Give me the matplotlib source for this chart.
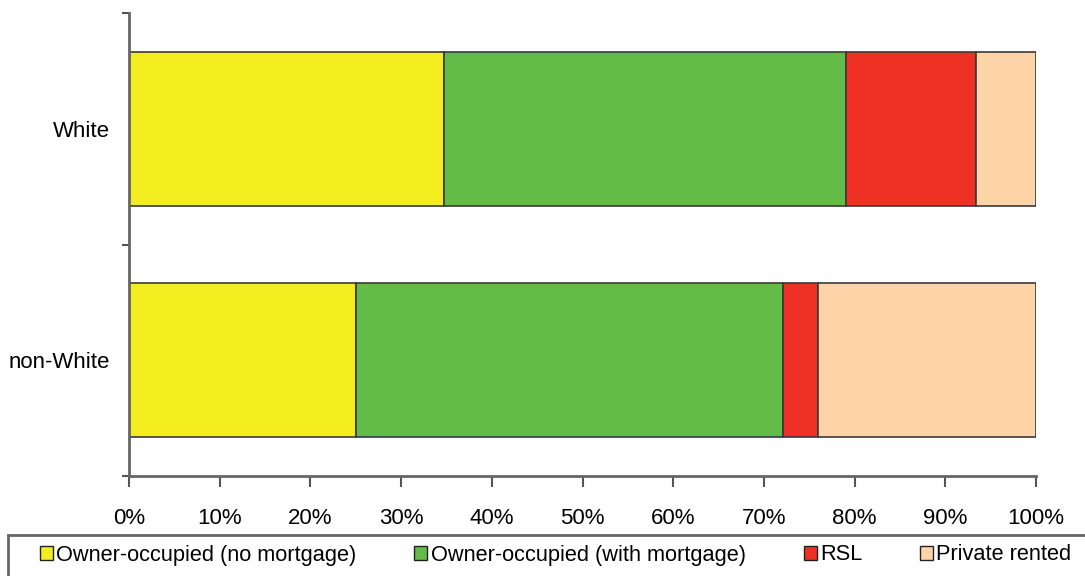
import matplotlib
matplotlib.use("Agg")
import matplotlib.pyplot as plt
from matplotlib.patches import Rectangle
import numpy as np

plt.rcParams['font.family'] = ['Liberation Sans', 'DejaVu Sans']

# data (percent of households)
groups = ['non-White', 'White']
series = ['Owner-occupied (no mortgage)', 'Owner-occupied (with mortgage)', 'RSL', 'Private rented']
no_mortgage = [25.0, 34.7]
with_mortgage = [47.1, 44.3]
rsl = [3.9, 14.4]
private_rented = [24.0, 6.6]
xticklabels = ['0%', '10%', '20%', '30%', '40%', '50%', '60%', '70%', '80%', '90%', '100%']

colors = ['#F3EC1E', '#63BC47', '#EE3124', '#FCD4A8']

fig = plt.figure(figsize=(10.85, 5.76), dpi=100)
ax = fig.add_axes([129 / 1085, 1 - 476 / 576, (1036 - 129) / 1085, (476 - 13) / 576])

y = np.arange(len(groups))
left = np.zeros(len(groups))
for vals, lab, c in zip([no_mortgage, with_mortgage, rsl, private_rented], series, colors):
    ax.barh(y, vals, left=left, height=0.665, color=c, edgecolor='#3a3a3a',
            linewidth=1.2, label=lab)
    left += np.array(vals)

ax.set_xlim(0, 100)
ax.set_ylim(-0.5, 1.5)

ax.set_xticks(np.arange(0, 101, 10))
ax.set_xticklabels(xticklabels, fontsize=16)
ax.tick_params(axis='x', length=8, width=1.5, color='#555555', pad=15)

ax.set_yticks(y)
ax.set_yticklabels(groups, fontsize=16)
ax.tick_params(axis='y', which='major', length=0, pad=14)
ax.set_yticks([-0.5, 0.5, 1.5], minor=True)
ax.tick_params(axis='y', which='minor', length=5, width=1.5, color='#555555')

for s in ['top', 'right']:
    ax.spines[s].set_visible(False)
for s in ['left', 'bottom']:
    ax.spines[s].set_color('#666666')
    ax.spines[s].set_linewidth(2)

# legend box runs across the whole bottom of the figure
fig.patches.append(Rectangle((8 / 1085, -0.02), 1.0, 0.02 + 1 - 535 / 576,
                             transform=fig.transFigure, facecolor='none',
                             edgecolor='#666666', linewidth=2))
handles, labels = ax.get_legend_handles_labels()
leg = fig.legend(handles, labels, loc='center left', ncol=4,
                 bbox_to_anchor=(40 / 1085, 1 - 555 / 576),
                 fontsize=15.7, frameon=False, handlelength=0.6,
                 handleheight=0.6, handletextpad=0.15, columnspacing=2.65,
                 borderpad=0, borderaxespad=0)
for h in leg.legend_handles:
    h.set_edgecolor('#222222')
    h.set_linewidth(1.0)

fig.savefig('out.png', dpi=100)
